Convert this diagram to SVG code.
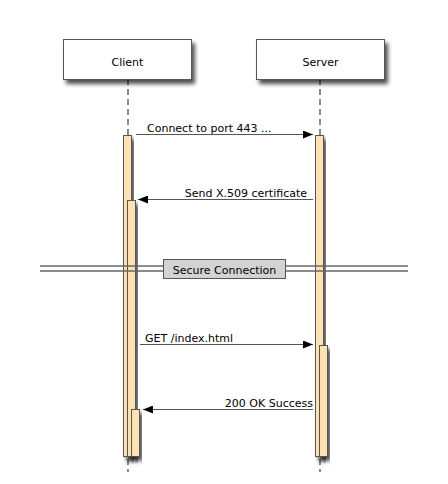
<svg xmlns="http://www.w3.org/2000/svg" width="448" height="484" viewBox="0 0 448 484">
<style>
text{font-family:"DejaVu Sans","Liberation Sans",sans-serif;font-size:11px;fill:#000}
.box{fill:#fff;stroke:#555;stroke-width:1}
.life{stroke:#666;stroke-width:1.5;stroke-dasharray:6,4;fill:none}
.act{fill:#ffe2b4;stroke:#555;stroke-width:1}
.msg{stroke:#555;stroke-width:1;fill:none}
.sep{stroke:#666;stroke-width:1.5;fill:none}
</style>
<defs>
<filter id="sh" x="-30%" y="-30%" width="160%" height="160%">
<feGaussianBlur in="SourceAlpha" stdDeviation="2"/>
<feOffset dx="3" dy="4" result="b"/>
<feComponentTransfer><feFuncA type="linear" slope="0.7"/></feComponentTransfer>
<feMerge><feMergeNode/><feMergeNode in="SourceGraphic"/></feMerge>
</filter>
<marker id="ah" markerWidth="10" markerHeight="8" refX="10" refY="4" orient="auto" markerUnits="userSpaceOnUse">
<path d="M0,0 L10,4 L0,8 Z" fill="#000"/>
</marker>
</defs>
<g id="lifelines">
<line class="life" x1="128" y1="79" x2="128" y2="472"/>
<line class="life" x1="320" y1="79" x2="320" y2="472"/>
</g>
<g id="client">
<rect class="box" x="63.5" y="39.5" width="128" height="40" filter="url(#sh)"/>
<text x="127.5" y="66" text-anchor="middle">Client</text>
</g>
<g id="server">
<rect class="box" x="256.5" y="39.5" width="128" height="40" filter="url(#sh)"/>
<text x="320.5" y="66" text-anchor="middle">Server</text>
</g>
<g id="activations">
<rect class="act" x="123.5" y="135.5" width="8" height="321" filter="url(#sh)"/>
<rect class="act" x="127.5" y="200.5" width="8" height="256" filter="url(#sh)"/>
<rect class="act" x="131.5" y="409.5" width="8" height="47" filter="url(#sh)"/>
<rect class="act" x="315.5" y="135.5" width="8" height="321" filter="url(#sh)"/>
<rect class="act" x="319.5" y="345.5" width="8" height="111" filter="url(#sh)"/>
</g>
<g id="separator">
<line class="sep" x1="40" y1="266" x2="408" y2="266"/>
<line class="sep" x1="40" y1="271" x2="408" y2="271"/>
<rect x="163.5" y="259.5" width="122" height="19" fill="#d3d3d3" stroke="#555" stroke-width="1"/>
<text x="224.5" y="274" text-anchor="middle">Secure Connection</text>
</g>
<g id="connectors">
<line class="msg" x1="136" y1="134.5" x2="313" y2="134.5" marker-end="url(#ah)"/>
<text x="147" y="132">Connect to port 443 ...</text>
<line class="msg" x1="313" y1="199.5" x2="138" y2="199.5" marker-end="url(#ah)"/>
<text x="307" y="197" text-anchor="end">Send X.509 certificate</text>
<line class="msg" x1="140" y1="344.5" x2="313" y2="344.5" marker-end="url(#ah)"/>
<text x="145" y="342">GET /index.html</text>
<line class="msg" x1="313" y1="409.5" x2="143" y2="409.5" marker-end="url(#ah)"/>
<text x="313" y="407" text-anchor="end">200 OK Success</text>
</g>
</svg>
